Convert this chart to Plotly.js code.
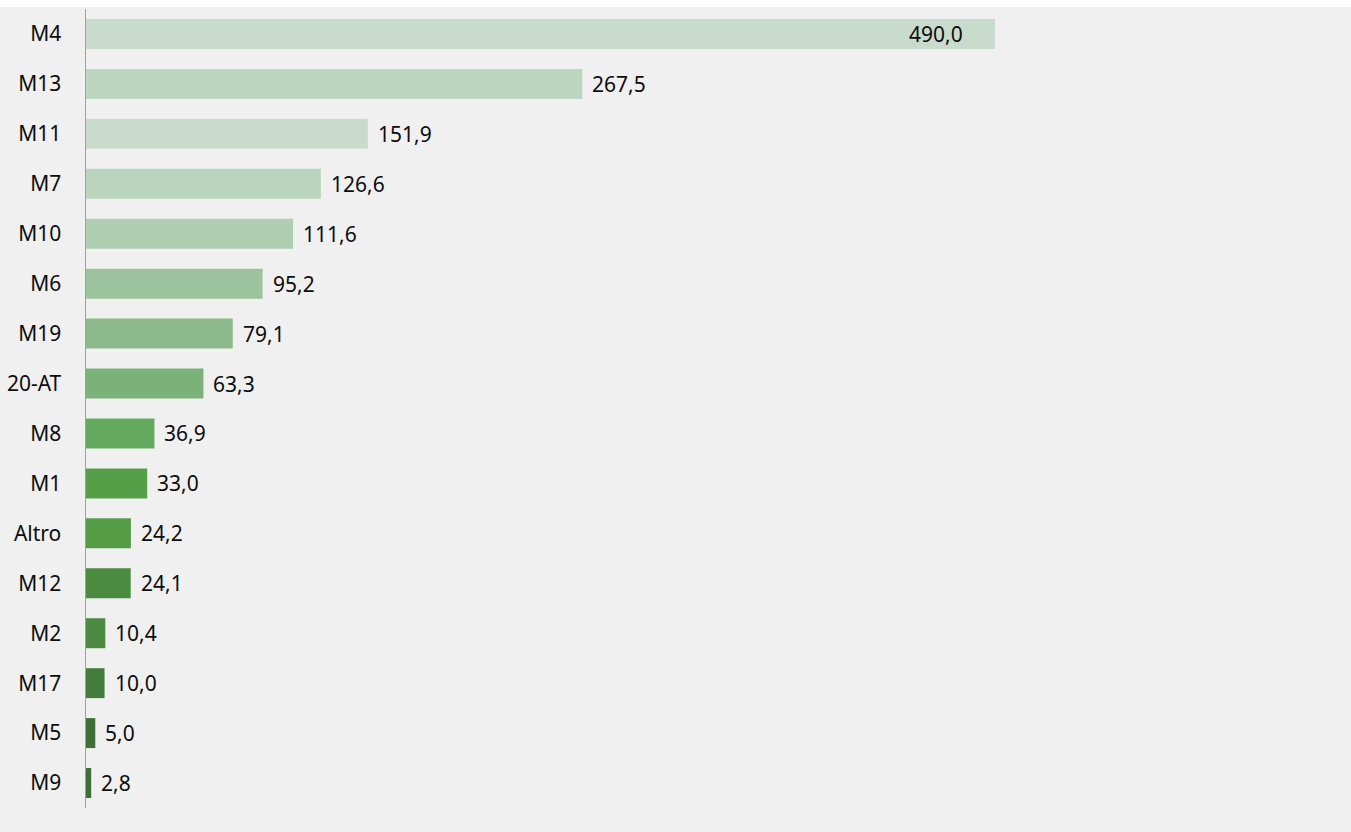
<!DOCTYPE html>
<html>
<head>
<meta charset="utf-8">
<script src="https://cdn.plot.ly/plotly-3.0.1.min.js"></script>
<style>
  html, body { margin: 0; padding: 0; background: #ffffff; width: 1351px; height: 832px; overflow: hidden; }
  #chart { position: absolute; left: 0; top: 7px; width: 1351px; height: 825px; }
</style>
</head>
<body>
<div id="chart"></div>
<script>
const categories = ["M4", "M13", "M11", "M7", "M10", "M6", "M19", "20-AT", "M8", "M1", "Altro", "M12", "M2", "M17", "M5", "M9"];
const values = [490.0, 267.5, 151.9, 126.6, 111.6, 95.2, 79.1, 63.3, 36.9, 33.0, 24.2, 24.1, 10.4, 10.0, 5.0, 2.8];
const barColors = ["#c9dbcc", "#bdd6bf", "#c9dbcc", "#bbd5bd", "#afcdb1", "#9cc39d", "#8cba8c", "#7bb27a",
                   "#64ab60", "#549f47", "#549c46", "#4b8b40", "#4b8a40", "#437d3b", "#3f7036", "#3d6e35"];

const fontFamily = "Noto Sans, Open Sans, sans-serif";
const fmt = v => v.toFixed(1).replace(".", ",");
const maxV = Math.max(...values);

const annotations = values.map((v, i) => {
  const inside = v === maxV;
  return {
    x: v, y: categories[i], xref: "x", yref: "y",
    text: fmt(v), showarrow: false,
    xanchor: inside ? "right" : "left",
    xshift: inside ? -30 : 8,
    font: { family: fontFamily, size: 21, color: "#0d0d0d" }
  };
});

const trace = {
  type: "bar", orientation: "h",
  x: values, y: categories,
  marker: { color: barColors, line: { width: 0 } },
  width: 0.6,
  hoverinfo: "none"
};

const layout = {
  width: 1351, height: 825,
  margin: { l: 86, r: 0, t: 2, b: 24, pad: 0 },
  paper_bgcolor: "#f0f0f0", plot_bgcolor: "#f0f0f0",
  showlegend: false,
  xaxis: { range: [0, 681.9], showgrid: false, zeroline: false, showline: false, showticklabels: false, ticks: "", fixedrange: true },
  yaxis: {
    type: "category", autorange: "reversed",
    showgrid: false, zeroline: false,
    showline: true, linecolor: "#a0a0a0", linewidth: 1.5,
    ticks: "", ticklabelstandoff: 19,
    tickfont: { family: fontFamily, size: 21, color: "#0d0d0d" },
    fixedrange: true
  },
  annotations: annotations
};

Plotly.newPlot("chart", [trace], layout, { displayModeBar: false, staticPlot: true });
</script>
</body>
</html>
